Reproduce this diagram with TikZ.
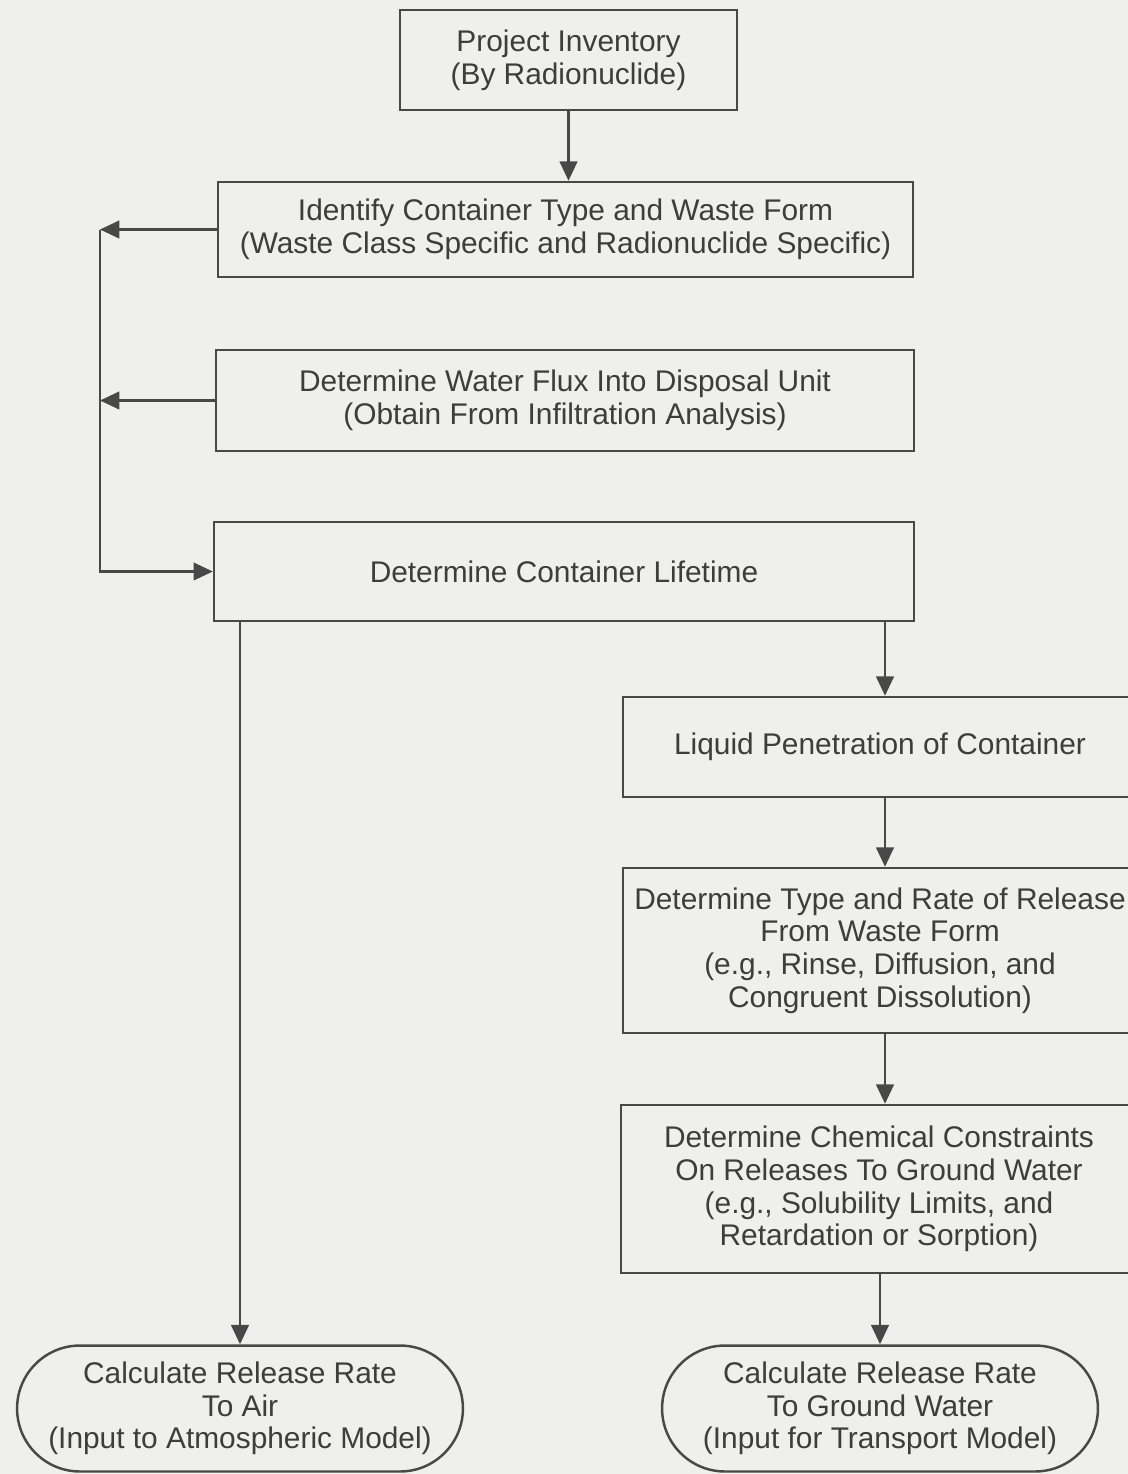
\documentclass[tikz,border=0pt]{standalone}
\usepackage{fontspec}
\setmainfont{Liberation Sans}
\usetikzlibrary{positioning,calc}
\usetikzlibrary{arrows.meta,shapes.misc}
\definecolor{InkGray}{RGB}{72,72,72}
\definecolor{PaperGray}{RGB}{239,239,237}
\tikzset{
  box/.style={rectangle,draw=InkGray,line width=1.4pt,text=InkGray!85!black,align=center,inner sep=4pt,
    font=\fontsize{17}{18.6}\selectfont},
  endbox/.style={box,rounded rectangle},
  flow/.style={draw=InkGray,line width=1.4pt,-{Triangle[width=10pt,length=11pt]}},
}

\begin{document}
\begin{tikzpicture}[x=0.02cm,y=-0.02cm]
\fill[PaperGray] (0,0) rectangle (1128,1474);
\useasboundingbox (0,0) rectangle (1128,1474);
\node[box,minimum width=6.74cm,minimum height=2cm] (inv) at (568.5,60) {Project Inventory\\(By Radionuclide)};
\node[box,minimum width=13.9cm,minimum height=1.9cm] (ident) at (565.5,229.5) {Identify Container Type and Waste Form\\(Waste Class Specific and Radionuclide Specific)};
\node[box,minimum width=13.96cm,minimum height=2.02cm] (flux) at (565,400.5) {Determine Water Flux Into Disposal Unit\\(Obtain From Infiltration Analysis)};
\node[box,minimum width=14cm,minimum height=1.98cm] (life) at (564,571.5) {Determine Container Lifetime};
\node[box,minimum width=10.28cm,minimum height=2cm] (liquid) at (880,747) {Liquid Penetration of Container};
\node[box,minimum width=10.28cm,minimum height=3.3cm] (rate) at (880,950.5) {Determine Type and Rate of Release\\From Waste Form\\(e.g., Rinse, Diffusion, and\\Congruent Dissolution)};
\node[box,minimum width=10.32cm,minimum height=3.36cm] (chem) at (879,1189) {Determine Chemical Constraints\\On Releases To Ground Water\\(e.g., Solubility Limits, and\\Retardation or Sorption)};
\node[endbox,minimum width=9.2cm,minimum height=2.52cm] (air) at (240,1408.5) {Calculate Release Rate\\To Air\\(Input to Atmospheric Model)};
\node[endbox,minimum width=9cm,minimum height=2.52cm] (ground) at (880,1408.5) {Calculate Release Rate\\To Ground Water\\(Input for Transport Model)};
\coordinate (loop) at (100,229.5);
\coordinate (rcol) at (885,0);
\draw[flow] (inv.south) -- (inv.south |- ident.north);
\draw[flow] (ident.west) -- (ident.west -| loop);
\draw[flow] (flux.west) -- (flux.west -| loop);
\draw[flow] (ident.west -| loop) -- (life.west -| loop) -- (life.west);
\draw[flow] (air.north |- life.south) -- (air.north);
\draw[flow] (rcol |- life.south) -- (rcol |- liquid.north);
\draw[flow] (rcol |- liquid.south) -- (rcol |- rate.north);
\draw[flow] (rcol |- rate.south) -- (rcol |- chem.north);
\draw[flow] (ground.north |- chem.south) -- (ground.north);
\end{tikzpicture}
\end{document}
